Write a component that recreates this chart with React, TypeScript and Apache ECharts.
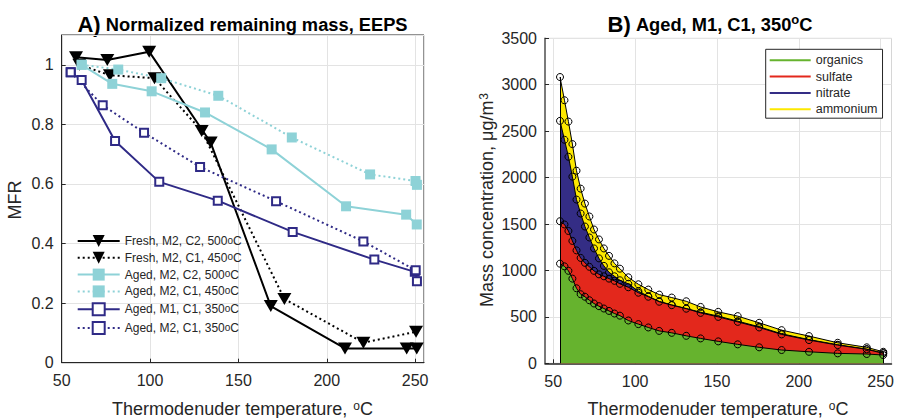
import React, { useEffect, useRef } from "react";
import * as echarts from "echarts";

const FONT = '"Liberation Sans", Arial, Helvetica, sans-serif';
const INK = "#262626";
const GRID = "#e3e3e3";

// ---------- Panel A: normalized remaining mass ----------
const freshC2x = [58.1, 75.8, 99.5, 134.3, 168.3, 210.3, 245.2, 250.9];
const freshC2y = [1.025, 1.016, 1.044, 0.739, 0.19, 0.048, 0.048, 0.048];
const freshC1x = [60.0, 77.3, 102.5, 129.2, 176.0, 220.7, 250.5];
const freshC1y = [1.0, 0.965, 0.955, 0.778, 0.214, 0.067, 0.104];
const agedC2x = [61.3, 78.6, 100.9, 131.1, 168.8, 210.9, 244.9, 250.9];
const agedC2y = [1.0, 0.936, 0.911, 0.84, 0.716, 0.525, 0.497, 0.464];
const agedC1x = [61.3, 82.0, 106.3, 138.6, 180.2, 224.5, 250.2, 251.0];
const agedC1y = [1.0, 0.984, 0.955, 0.896, 0.756, 0.632, 0.61, 0.597];
const agedM1x = [55.1, 61.3, 80.2, 105.2, 138.3, 180.7, 226.9, 249.8];
const agedM1y = [0.975, 0.949, 0.744, 0.607, 0.544, 0.439, 0.346, 0.305];
const agedM2x = [55.1, 73.2, 96.6, 128.3, 171.3, 220.7, 250.3, 251.0];
const agedM2y = [0.975, 0.864, 0.772, 0.657, 0.542, 0.407, 0.31, 0.273];

const namesA = [
  "Fresh, M2, C2, 500°C",
  "Fresh, M2, C1, 450°C",
  "Aged, M2, C2, 500°C",
  "Aged, M2, C1, 450°C",
  "Aged, M1, C1, 350°C",
  "Aged, M2, C1, 350°C",
];

// ---------- Panel B: mass concentration components ----------
const temps = [54.1, 56.8, 59.2, 61.6, 64.1, 66.6, 69.2, 71.9, 74.7, 77.7, 80.7, 83.8, 87.1, 90.4, 95.5, 101.6, 107.6, 114.2, 121.8, 130.6, 139.3, 150, 161.8, 174.8, 188.4, 205, 222.4, 240, 250];
const organics = [1073, 1044, 996, 912, 808, 744, 717, 679, 644, 615, 590, 564, 536, 513, 461, 422, 386, 349, 328, 296, 268, 236, 204, 172, 143, 124, 107, 100, 89];
const sulfate = [457, 451, 429, 406, 408, 391, 365, 360, 352, 343, 347, 348, 352, 343, 358, 338, 331, 314, 298, 292, 275, 264, 242, 214, 168, 126, 89, 50, 18];
const nitrate = [1081, 912, 799, 692, 547, 478, 391, 316, 241, 172, 112, 68, 49, 38, 37, 16, 5, 4, 3, 2, 7, 8, 8, 7, 7, 5, 4, 3, 4];
const ammonium = [472, 426, 379, 351, 311, 268, 247, 226, 204, 204, 188, 177, 139, 125, 70, 75, 72, 73, 79, 78, 57, 46, 54, 43, 39, 38, 21, 19, 13];
const namesB = ["organics", "sulfate", "nitrate", "ammonium"];
const colorsB = ["#66b32e", "#e3281c", "#342d85", "#fde800"];

const BLACK = "#000000";
const CYAN = "#8ed2d7";
const NAVY = "#2f2a86";

const zip = (xs: number[], ys: number[]) => xs.map((x, i) => [x, ys[i]]);

function lineA(name: string, xs: number[], ys: number[], color: string, dotted: boolean, symbol: string, size: number | number[], rotate = 0) {
  return {
    type: "line",
    name,
    xAxisIndex: 0,
    yAxisIndex: 0,
    data: zip(xs, ys),
    symbol,
    symbolSize: size,
    symbolRotate: rotate,
    showSymbol: true,
    lineStyle: { color, width: 2, type: dotted ? [2, 3] : "solid" },
    itemStyle: { color },
    z: 3,
  };
}

function buildOption() {
  const comps = [organics, sulfate, nitrate, ammonium];
  // cumulative tops of the stacked areas (organics at the bottom)
  const cumul = comps.map((_, k) => temps.map((_, i) => comps.slice(0, k + 1).reduce((s, arr) => s + arr[i], 0)));
  const last = temps.length - 1;

  // draw top band first; each area fills down to zero and the lower ones cover it
  const stackSeries = [3, 2, 1, 0].map((k, order) => {
    const s: any = {
      type: "line",
      name: namesB[k],
      xAxisIndex: 1,
      yAxisIndex: 1,
      data: zip(temps, cumul[k]),
      symbol: "circle",
      symbolSize: 7,
      showSymbol: true,
      lineStyle: { color: BLACK, width: 1 },
      itemStyle: { color: "rgba(0,0,0,0)", borderColor: BLACK, borderWidth: 1 },
      areaStyle: { color: colorsB[k], opacity: 1, origin: "start" },
      z: 2 + order * 0.01,
    };
    if (k === 0) {
      s.markLine = {
        silent: true,
        symbol: ["none", "none"],
        label: { show: false },
        lineStyle: { color: BLACK, width: 1, type: "solid" },
        data: [
          [{ coord: [temps[0], 0] }, { coord: [temps[0], cumul[3][0]] }],
          [{ coord: [temps[last], 0] }, { coord: [temps[last], cumul[3][last]] }],
        ],
      };
    }
    return s;
  });

  const sup = { s: { fontSize: 12, verticalAlign: "top", padding: [0, 0, 0, 1] } };
  const supSmall = { s: { fontSize: 10, verticalAlign: "top" } };

  return {
    animation: false,
    backgroundColor: "#ffffff",
    textStyle: { fontFamily: FONT },
    grid: [
      { left: 61.7, top: 35, width: 362.3, height: 327.7, show: true, borderColor: INK, borderWidth: 1 },
      { left: 545, top: 38.3, width: 346.5, height: 325, show: true, borderColor: "#d6d6d6", borderWidth: 1 },
      { left: 553.25, top: 38.3, width: 330, height: 325, show: false },
    ],
    xAxis: [
      {
        gridIndex: 0, type: "value", min: 50, max: 255, interval: 50,
        axisLine: { show: true, onZero: false, lineStyle: { color: INK, width: 1 } },
        axisTick: { show: true, inside: true, length: 4, lineStyle: { color: INK } },
        axisLabel: { fontSize: 16, color: INK, margin: 10, showMaxLabel: false, fontFamily: FONT },
        splitLine: { show: true, lineStyle: { color: GRID, width: 1 } },
      },
      {
        gridIndex: 1, type: "value", min: 45, max: 255,
        axisLine: { show: true, onZero: false, lineStyle: { color: INK, width: 1.5 } },
        axisTick: { show: false },
        axisLabel: { show: false },
        splitLine: { show: false },
      },
      {
        gridIndex: 2, type: "value", min: 50, max: 250, interval: 50,
        axisLine: { show: false, onZero: false },
        axisTick: { show: true, inside: true, length: 4, lineStyle: { color: INK } },
        axisLabel: { fontSize: 16, color: INK, margin: 10, fontFamily: FONT },
        splitLine: { show: true, lineStyle: { color: GRID, width: 1 } },
      },
    ],
    yAxis: [
      {
        gridIndex: 0, type: "value", min: 0, max: 1.1, interval: 0.2,
        axisLine: { show: true, onZero: false, lineStyle: { color: INK, width: 1 } },
        axisTick: { show: true, inside: true, length: 4, lineStyle: { color: INK } },
        axisLabel: { fontSize: 16, color: INK, margin: 8, showMaxLabel: false, fontFamily: FONT },
        splitLine: { show: true, lineStyle: { color: GRID, width: 1 } },
      },
      {
        gridIndex: 1, type: "value", min: 0, max: 3500, interval: 500,
        axisLine: { show: true, onZero: false, lineStyle: { color: "#555555", width: 1.5 } },
        axisTick: { show: true, inside: true, length: 4, lineStyle: { color: INK } },
        axisLabel: { fontSize: 16, color: INK, margin: 8, fontFamily: FONT, formatter: (v: number) => String(v) },
        splitLine: { show: true, lineStyle: { color: GRID, width: 1 } },
      },
      { gridIndex: 2, type: "value", min: 0, max: 3500, show: false },
    ],
    legend: [
      {
        data: namesA,
        orient: "vertical",
        left: 76.7,
        top: 235,
        padding: 0,
        itemWidth: 42,
        itemHeight: 15,
        itemGap: 4.8,
        textStyle: { fontSize: 12, color: INK, fontFamily: FONT, rich: supSmall },
        formatter: (n: string) => n.replace("°C", "{s|o}C"),
        selectedMode: false,
      },
      {
        data: namesB.map((n, k) => ({ name: n, icon: "rect", itemStyle: { color: colorsB[k], borderWidth: 0 } })),
        orient: "vertical",
        left: 765.7,
        top: 49.3,
        padding: [4, 5, 2, 4],
        itemWidth: 41,
        itemHeight: 2,
        itemGap: 2.3,
        backgroundColor: "#ffffff",
        borderColor: INK,
        borderWidth: 1,
        textStyle: { fontSize: 12.5, lineHeight: 14, color: INK, fontFamily: FONT },
        selectedMode: false,
      },
    ],
    graphic: [
      {
        type: "text", x: 242.5, y: 24,
        style: {
          text: "{a|A)} {b|Normalized remaining mass, EEPS}",
          align: "center", verticalAlign: "middle", fill: BLACK,
          fontFamily: FONT, fontSize: 18.5, fontWeight: "bold",
          rich: { a: { fontSize: 22, fontWeight: "bold", fontFamily: FONT }, b: { fontSize: 18.3, fontWeight: "bold", fontFamily: FONT } },
        },
      },
      {
        type: "text", x: 710, y: 24,
        style: {
          text: "{a|B)} {b|Aged, M1, C1, 350}{s|o}{b|C}",
          align: "center", verticalAlign: "middle", fill: BLACK,
          fontFamily: FONT, fontSize: 18.5, fontWeight: "bold",
          rich: {
            a: { fontSize: 22, fontWeight: "bold", fontFamily: FONT },
            b: { fontSize: 18.3, fontWeight: "bold", fontFamily: FONT },
            s: { fontSize: 13, fontWeight: "bold", fontFamily: FONT, verticalAlign: "top" },
          },
        },
      },
      {
        type: "text", x: 242.5, y: 409,
        style: {
          text: "Thermodenuder temperature, {s|o}C",
          align: "center", verticalAlign: "middle", fill: INK,
          fontFamily: FONT, fontSize: 18, rich: sup,
        },
      },
      {
        type: "text", x: 718, y: 409,
        style: {
          text: "Thermodenuder temperature, {s|o}C",
          align: "center", verticalAlign: "middle", fill: INK,
          fontFamily: FONT, fontSize: 18, rich: sup,
        },
      },
      {
        type: "text", x: 15, y: 200, rotation: Math.PI / 2,
        style: { text: "MFR", align: "center", verticalAlign: "middle", fill: INK, fontFamily: FONT, fontSize: 18 },
      },
      {
        type: "text", x: 487, y: 200, rotation: Math.PI / 2,
        style: {
          text: "Mass concentration, μg/m{s|3}",
          align: "center", verticalAlign: "middle", fill: INK,
          fontFamily: FONT, fontSize: 18, rich: sup,
        },
      },
    ],
    series: [
      lineA(namesA[0], freshC2x, freshC2y, BLACK, false, "triangle", [14, 12], 180),
      lineA(namesA[1], freshC1x, freshC1y, BLACK, true, "triangle", [14, 12], 180),
      lineA(namesA[2], agedC2x, agedC2y, CYAN, false, "rect", 10),
      lineA(namesA[3], agedC1x, agedC1y, CYAN, true, "rect", 10),
      lineA(namesA[4], agedM1x, agedM1y, NAVY, false, "emptyRect", 8),
      lineA(namesA[5], agedM2x, agedM2y, NAVY, true, "emptyRect", 8),
      ...stackSeries,
    ],
  };
}

export default function App() {
  const ref = useRef<HTMLDivElement>(null);
  useEffect(() => {
    if (!ref.current) return;
    const chart = echarts.init(ref.current, null, { renderer: "svg" });
    chart.setOption(buildOption() as any);
    return () => chart.dispose();
  }, []);
  return (
    <div
      ref={ref}
      style={{ position: "fixed", left: 0, top: 0, width: 897, height: 418, background: "#fff" }}
    />
  );
}
